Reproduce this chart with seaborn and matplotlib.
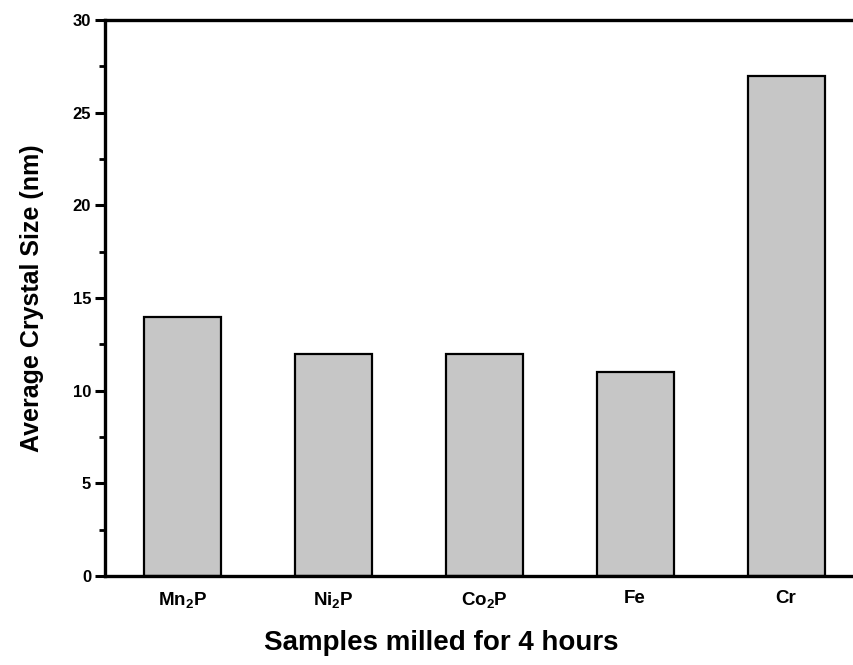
import matplotlib
matplotlib.use("Agg")
import matplotlib.pyplot as plt
import seaborn as sns
import pandas as pd
from matplotlib.ticker import MultipleLocator

categories = ["Mn$_2$P", "Ni$_2$P", "Co$_2$P", "Fe", "Cr"]
crystal_size = [14, 12, 12, 11, 27]

df = pd.DataFrame({"sample": categories, "size": crystal_size})

sns.set_style("ticks")
plt.rcParams["font.family"] = ["Liberation Sans", "DejaVu Sans"]
plt.rcParams["mathtext.fontset"] = "custom"
plt.rcParams["mathtext.rm"] = "Liberation Sans:bold"
plt.rcParams["mathtext.it"] = "Liberation Sans:bold"
plt.rcParams["mathtext.bf"] = "Liberation Sans:bold"
plt.rcParams["text.color"] = "black"
plt.rcParams["axes.labelcolor"] = "black"
plt.rcParams["xtick.color"] = "black"
plt.rcParams["ytick.color"] = "black"

fig = plt.figure(figsize=(8.54, 6.65), dpi=100)
ax = fig.add_axes([105 / 854, 1 - 576 / 665, (854 - 105) / 854, (576 - 20) / 665])

sns.barplot(data=df, x="sample", y="size", ax=ax, color="#c6c6c6",
            edgecolor="black", linewidth=1.6, width=0.51, saturation=1)

ax.set_xlim(-0.51, 4.45)
ax.set_ylim(0, 30)
ax.yaxis.set_major_locator(MultipleLocator(5))
ax.yaxis.set_minor_locator(MultipleLocator(2.5))

for s in ["left", "bottom", "top"]:
    ax.spines[s].set_linewidth(2.4)
    ax.spines[s].set_color("black")
ax.spines["right"].set_visible(False)

ax.tick_params(axis="y", which="major", length=7, width=2.2, labelsize=12, pad=3)
ax.tick_params(axis="y", which="minor", length=4, width=2.0)
ax.tick_params(axis="x", which="both", length=0, labelsize=13.5, pad=10)
for lab in ax.get_yticklabels() + ax.get_xticklabels():
    lab.set_fontweight("bold")

ax.set_ylabel("Average Crystal Size (nm)", fontsize=18, fontweight="bold")
ax.set_xlabel("Samples milled for 4 hours", fontsize=20, fontweight="bold")
ax.yaxis.set_label_coords(-0.082, 0.5)
ax.xaxis.set_label_coords(0.449, -0.098)

fig.savefig("out.png", dpi=100)
